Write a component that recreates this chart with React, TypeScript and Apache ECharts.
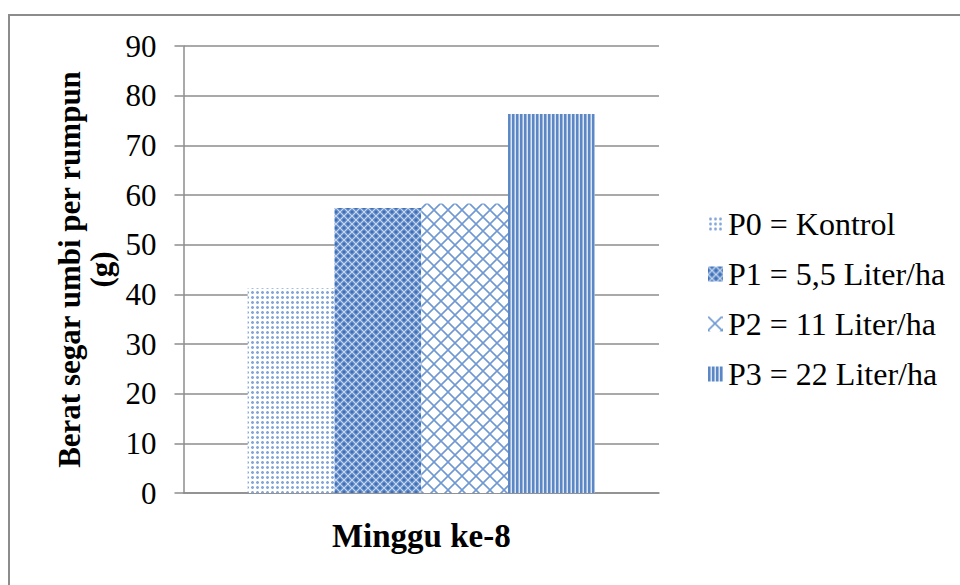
import React, { useEffect, useRef } from "react";
import * as echarts from "echarts";

const categories: string[] = ["Minggu ke-8"];
const seriesNames: string[] = [
  "P0 = Kontrol",
  "P1 = 5,5 Liter/ha",
  "P2 = 11 Liter/ha",
  "P3 = 22 Liter/ha",
];
const seriesValues: number[][] = [[41.2], [57.4], [58.3], [76.3]];
const yTicks = { min: 0, max: 90, interval: 10 };

const FONT = "'Liberation Serif', 'Times New Roman', serif";
const GREY = "#8c8c8c";

function makeTile(w: number, h: number, draw: (ctx: CanvasRenderingContext2D) => void) {
  const c = document.createElement("canvas");
  c.width = w;
  c.height = h;
  const ctx = c.getContext("2d") as CanvasRenderingContext2D;
  draw(ctx);
  return { image: c, repeat: "repeat", imageWidth: w, imageHeight: h } as any;
}

// P0: fine dotted grid
function dotsPattern() {
  return makeTile(5, 5, (ctx) => {
    ctx.fillStyle = "#ffffff";
    ctx.fillRect(0, 0, 5, 5);
    ctx.fillStyle = "#c6d7ef";
    ctx.fillRect(1, 1, 3, 3);
    ctx.fillStyle = "#86a8d9";
    ctx.fillRect(2, 1, 1, 3);
    ctx.fillRect(1, 2, 3, 1);
  });
}

// P1: dense diamond check
function denseCheckPattern() {
  return makeTile(8, 8, (ctx) => {
    ctx.fillStyle = "#5a86c6";
    ctx.fillRect(0, 0, 8, 8);
    ctx.strokeStyle = "#c9d8ef";
    ctx.lineWidth = 1.2;
    ctx.beginPath();
    ctx.moveTo(0, 0);
    ctx.lineTo(8, 8);
    ctx.moveTo(8, 0);
    ctx.lineTo(0, 8);
    ctx.stroke();
    ctx.fillStyle = "#3f6fb4";
    ctx.fillRect(3, 0, 2, 1);
    ctx.fillRect(0, 3, 1, 2);
    ctx.fillRect(7, 3, 1, 2);
    ctx.fillRect(3, 7, 2, 1);
  });
}

// P2: open diagonal cross-hatch
function crossHatchPattern() {
  return makeTile(14, 14, (ctx) => {
    ctx.fillStyle = "#ffffff";
    ctx.fillRect(0, 0, 14, 14);
    ctx.strokeStyle = "#7099d2";
    ctx.lineWidth = 1.6;
    ctx.beginPath();
    ctx.moveTo(-1, -1);
    ctx.lineTo(15, 15);
    ctx.moveTo(15, -1);
    ctx.lineTo(-1, 15);
    ctx.stroke();
  });
}

// P3: vertical stripes
function stripesPattern() {
  return makeTile(4, 4, (ctx) => {
    ctx.fillStyle = "#dbe5f3";
    ctx.fillRect(0, 0, 4, 4);
    ctx.fillStyle = "#5b87c5";
    ctx.fillRect(0, 0, 2, 4);
    ctx.fillStyle = "#9ab6de";
    ctx.fillRect(2, 0, 1, 4);
  });
}

export default function App() {
  const ref = useRef<HTMLDivElement>(null);

  useEffect(() => {
    if (!ref.current) return;
    const chart = echarts.init(ref.current, undefined, { renderer: "svg" });
    const fills = [dotsPattern(), denseCheckPattern(), crossHatchPattern(), stripesPattern()];

    chart.setOption({
      animation: false,
      backgroundColor: "#ffffff",
      textStyle: { fontFamily: FONT },
      graphic: [
        {
          type: "rect",
          shape: { x: 9, y: 15, width: 2000, height: 2000 },
          style: { fill: "none", stroke: GREY, lineWidth: 2 },
          silent: true,
        },
      ],
      grid: { left: 183.5, right: 301, top: 46, bottom: 92 },
      legend: {
        orient: "vertical",
        left: 703,
        top: 203,
        itemWidth: 15,
        itemHeight: 15,
        itemGap: 18,
        icon: "rect",
        data: seriesNames,
        textStyle: { fontFamily: FONT, fontSize: 32, color: "#000", lineHeight: 32 },
      },
      xAxis: {
        type: "category",
        data: categories,
        axisLine: { show: true, lineStyle: { color: GREY, width: 1.5 } },
        axisTick: { show: false },
        axisLabel: {
          fontFamily: FONT,
          fontSize: 33,
          fontWeight: "bold",
          color: "#000",
          margin: 26,
        },
      },
      yAxis: {
        type: "value",
        min: yTicks.min,
        max: yTicks.max,
        interval: yTicks.interval,
        name: "Berat segar umbi per rumpun\n(g)",
        nameLocation: "middle",
        nameRotate: 90,
        nameGap: 66,
        nameTextStyle: {
          fontFamily: FONT,
          fontSize: 31,
          fontWeight: "bold",
          color: "#000",
          lineHeight: 32,
        },
        axisLine: { show: true, lineStyle: { color: GREY, width: 1.5 } },
        axisTick: { show: true, length: 9, lineStyle: { color: GREY, width: 1.5 } },
        splitLine: { show: true, lineStyle: { color: GREY, width: 1.5 } },
        axisLabel: { fontFamily: FONT, fontSize: 31, color: "#000", margin: 27 },
      },
      series: seriesNames.map((name, i) => ({
        name,
        type: "bar",
        data: seriesValues[i],
        barGap: "0%",
        barCategoryGap: "27%",
        itemStyle: { color: fills[i] },
      })),
    });

    return () => chart.dispose();
  }, []);

  return (
    <div
      ref={ref}
      style={{ position: "fixed", left: 0, top: 0, width: 960, height: 585 }}
    />
  );
}
